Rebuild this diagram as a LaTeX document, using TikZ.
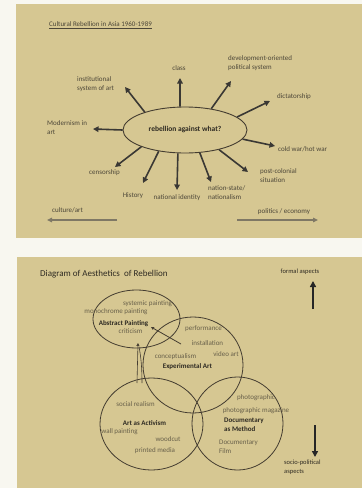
\documentclass[tikz,border=0pt]{standalone}
\usepackage{fontspec}
\setmainfont{Carlito}
\usetikzlibrary{shapes.geometric,arrows.meta}
\definecolor{paper}{RGB}{248,247,240}
\definecolor{slide}{RGB}{214,199,146}
\definecolor{ink}{RGB}{76,70,56}
\definecolor{inkd}{RGB}{46,42,34}
\definecolor{ink2}{RGB}{104,96,74}
\definecolor{arrc}{RGB}{58,56,52}
\definecolor{circc}{RGB}{68,60,48}
\begin{document}
\begin{tikzpicture}[x=1pt,y=-1pt,
 lbl/.style={font=\fontsize{7}{9}\selectfont,text=ink,align=center,inner sep=1pt},
 lbl2/.style={font=\fontsize{7}{9}\selectfont,text=ink2,align=center,inner sep=1pt},
 bld/.style={font=\fontsize{7}{9}\selectfont\bfseries,text=inkd,align=left,inner sep=1pt},
 arr/.style={draw=arrc,line width=1.6pt,-{Triangle[length=5.5pt,width=5.5pt]}},
 flat/.style={draw=ink2!85!white,line width=1.4pt,-{Triangle[length=5pt,width=4.5pt]}},
 blk/.style={draw=black!85,line width=1.6pt,-{Triangle[length=6pt,width=6pt]}},
 circ/.style={draw=circc,line width=0.8pt}]
\useasboundingbox (0,0) rectangle (362,488);
\fill[paper] (0,0) rectangle (362,488);
\fill[slide] (16,4) rectangle (362,238);
\fill[slide] (17,257) rectangle (362,488);

\node[lbl,anchor=west] (ttl) at (48,25) {\underline{Cultural Rebellion in Asia 1960-1989}};
\node[ellipse,draw=circc,line width=0.9pt,minimum width=124pt,minimum height=46pt,
 font=\fontsize{7.5}{9}\selectfont\bfseries,text=inkd] (q) at (185,130) {rebellion against what?};
\node[lbl] (cls) at (179,68) {class};
\node[lbl,anchor=west,align=left] (dev) at (227,63) {development-oriented\\political system};
\node[lbl,anchor=west,align=left] (ins) at (76,84.5) {institutional\\system of art};
\node[lbl] (dic) at (294,97) {dictatorship};
\node[lbl,anchor=west,align=left] (mod) at (46,128) {Modernism in\\art};
\node[lbl,anchor=west] (cwr) at (277,149) {cold war/hot war};
\node[lbl,anchor=west,align=left] (pco) at (259,175.5) {post-colonial\\situation};
\node[lbl] (cen) at (104.5,173) {censorship};
\node[lbl] (his) at (133,196) {History};
\node[lbl] (nid) at (177,198) {national identity};
\node[lbl,anchor=west,align=left] (nst) at (207,192.5) {nation-state/\\nationalism};
\node[lbl] (cul) at (67.5,210) {culture/art};
\node[lbl] (pol) at (284,212) {politics / economy};

\coordinate (t1) at (180,78);
\coordinate (t2) at (231,81);
\coordinate (t3) at (125,87);
\coordinate (t4) at (270,101);
\coordinate (t5) at (93,129);
\coordinate (t6) at (275,146);
\coordinate (t7) at (248,172);
\coordinate (t8) at (115,167);
\coordinate (t9) at (143,183);
\coordinate (t10) at (177,190);
\coordinate (t11) at (211,182);
\draw[arr] (q.102) -- (t1);
\draw[arr] (q.39) -- (t2);
\draw[arr] (q.156) -- (t3);
\draw[arr] (q.14) -- (t4);
\draw[arr] (q.180) -- (t5);
\draw[arr] (q.-9) -- (t6);
\draw[arr] (q.-30) -- (t7);
\draw[arr] (q.201) -- (t8);
\draw[arr] (q.219) -- (t9);
\draw[arr] (q.253) -- (t10);
\draw[arr] (q.303) -- (t11);
\coordinate (cul0) at (117,220);
\coordinate (cul1) at (47,220);
\coordinate (pol0) at (237,220);
\coordinate (pol1) at (318,220);
\draw[flat] (cul0) -- (cul1);
\draw[flat] (pol0) -- (pol1);

\node[anchor=west,font=\fontsize{9}{11}\selectfont,text=inkd,inner sep=1pt] (ttl2) at (39,274) {Diagram of Aesthetics\ \ of Rebellion};
\node[lbl,text=inkd,font=\fontsize{6.5}{8}\selectfont] (fa) at (300,272) {formal aspects};
\node[lbl,text=inkd,font=\fontsize{6.5}{8.5}\selectfont,anchor=west,align=left] (sp) at (283,467.5) {socio-political\\aspects};
\coordinate (fa0) at (313,309);
\coordinate (fa1) at (313,281);
\coordinate (sp0) at (315,425);
\coordinate (sp1) at (315,457);
\draw[blk] (fa0) -- (fa1);
\draw[blk] (sp0) -- (sp1);

\draw[circ] (136.5,319) ellipse [x radius=43.5pt,y radius=29pt];
\draw[circ] (193,365) ellipse [x radius=50pt,y radius=48pt];
\draw[circ] (151.5,424) ellipse [x radius=51.5pt,y radius=46pt];
\draw[circ] (237.5,423.5) ellipse [x radius=45.5pt,y radius=46.5pt];

\node[lbl2] (sys) at (147.5,304) {systemic painting};
\node[lbl2] (mono) at (116,312) {monochrome painting};
\node[bld] (ap) at (123.5,324) {Abstract Painting};
\node[lbl2] (crit) at (130.5,331) {criticism};
\node[lbl2] (perf) at (203.5,329) {performance};
\node[lbl2] (inst) at (207.5,343) {installation};
\node[lbl2] (vid) at (226,354) {video art};
\node[lbl2] (conc) at (175.5,357) {conceptualism};
\node[bld] (ea) at (187.5,367) {Experimental Art};
\node[lbl2] (phg) at (256,398) {photographic};
\node[lbl2] (phm) at (256,411) {photographic magazine};
\node[bld,anchor=west] (dam) at (223,424.5) {Documentary\\as Method};
\node[lbl2,anchor=west,align=left] (dfi) at (218,446.5) {Documentary\\Film};
\node[lbl2] (sr) at (135.5,404) {social realism};
\node[bld] (aa) at (144.5,423) {Art as Activism};
\node[lbl2] (wp) at (119.5,432) {wall painting};
\node[lbl2] (wc) at (168,439) {woodcut};
\node[lbl2] (pm) at (155,451) {printed media};

\coordinate (ia) at (181,344);
\coordinate (ib) at (151,327);
\draw[circ,-{Triangle[length=3pt,width=3pt]}] (ia) -- (ib);
\coordinate (va) at (137,383);
\coordinate (vb) at (138,343);
\coordinate (vc) at (142,383);
\coordinate (vd) at (139,347);
\draw[circ,line width=0.6pt,-{Triangle[length=3pt,width=3pt]}] (va) -- (vb);
\draw[circ,line width=0.6pt] (vc) .. controls (142,362) and (140,352) .. (vd);
\end{tikzpicture}
\end{document}
